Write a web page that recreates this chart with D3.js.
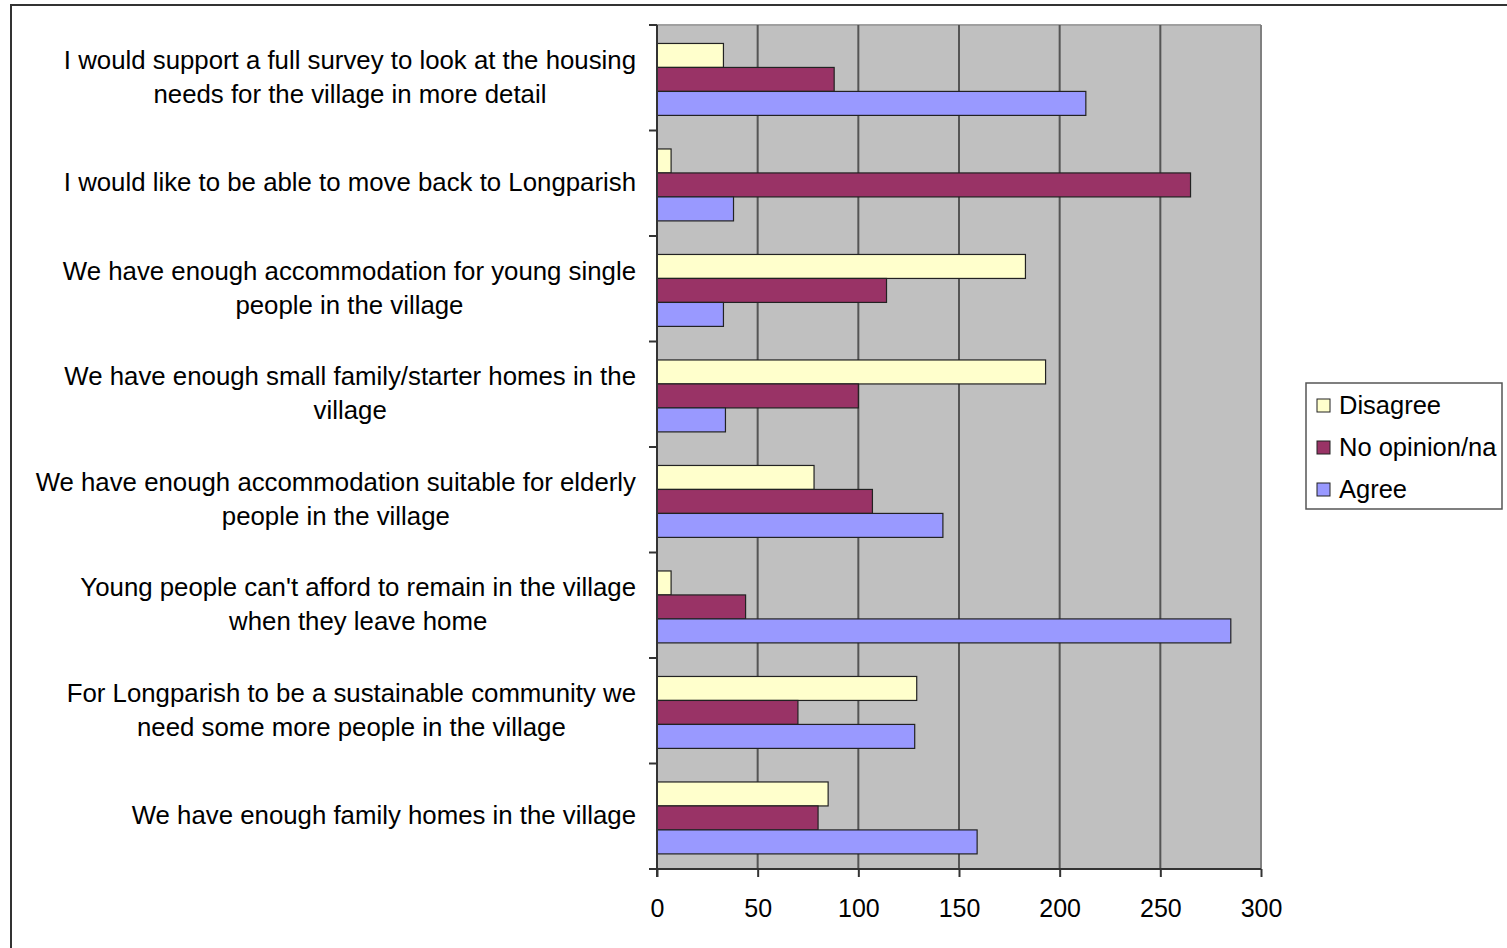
<!DOCTYPE html>
<html>
<head>
<meta charset="utf-8">
<script src="https://cdn.jsdelivr.net/npm/d3@7"></script>
<style>
  html, body { margin: 0; padding: 0; background: #fff; }
  svg { display: block; font-family: "Liberation Sans", Arial, sans-serif; }
</style>
</head>
<body>
<svg id="chart" width="1507" height="948"></svg>
<script>
const categories = [
  ["I would support a full survey to look at the housing", "needs for the village in more detail"],
  ["I would like to be able to move back to Longparish"],
  ["We have enough accommodation for young single", "people in the village"],
  ["We have enough small family/starter homes in the", "village"],
  ["We have enough accommodation suitable for elderly", "people in the village"],
  ["Young people can't afford to remain in the village", "when they leave home"],
  ["For Longparish to be a sustainable community we", "need some more people in the village"],
  ["We have enough family homes in the village"]
];
const seriesNames = ["Disagree", "No opinion/na", "Agree"];
const disagree = [33, 7, 183, 193, 78, 7, 129, 85];
const noOpinion = [88, 265, 114, 100, 107, 44, 70, 80];
const agree = [213, 38, 33, 34, 142, 285, 128, 159];
const seriesColors = ["#FFFFCC", "#993366", "#9999FF"];
const xTicks = [0, 50, 100, 150, 200, 250, 300];

(function () {
const seriesValues = [disagree, noOpinion, agree];
const svg = d3.select("#chart");

// outer frame
svg.append("rect").attr("x", 11).attr("y", 5).attr("width", 1520).attr("height", 980)
  .attr("fill", "none").attr("stroke", "#333").attr("stroke-width", 2);

const pLeft = 657, pRight = 1261, pTop = 25, pBottom = 869;
const x = d3.scaleLinear().domain([0, 300]).range([pLeft, pRight]);
const y = d3.scaleBand().domain(d3.range(categories.length)).range([pTop, pBottom]).paddingInner(0).paddingOuter(0);
const inner = d3.scaleBand().domain(d3.range(3)).range([0, y.bandwidth()])
  .paddingInner(0).paddingOuter(0.7).align(0.55);

// plot background
svg.append("rect").attr("x", pLeft).attr("y", pTop).attr("width", pRight - pLeft).attr("height", pBottom - pTop)
  .attr("fill", "#C0C0C0");
svg.append("path").attr("d", `M${pLeft},${pTop}H${pRight}`).attr("fill", "none")
  .attr("stroke", "#a0a0a0").attr("stroke-width", 2);
svg.append("path").attr("d", `M${pRight},${pTop}V${pBottom}`).attr("fill", "none")
  .attr("stroke", "#808080").attr("stroke-width", 2);

// gridlines
svg.append("g").selectAll("line").data(xTicks.slice(1, -1)).join("line")
  .attr("x1", d => x(d)).attr("x2", d => x(d)).attr("y1", pTop).attr("y2", pBottom)
  .attr("stroke", "#555").attr("stroke-width", 2);

// bars
const groups = svg.append("g").selectAll("g").data(categories).join("g")
  .attr("transform", (d, i) => `translate(0,${y(i)})`);
groups.selectAll("rect").data((d, i) => seriesValues.map((s, k) => ({ k, v: s[i] }))).join("rect")
  .attr("x", x(0)).attr("y", d => inner(d.k)).attr("width", d => x(d.v) - x(0)).attr("height", inner.bandwidth())
  .attr("fill", d => seriesColors[d.k]).attr("stroke", "#222").attr("stroke-width", 1.2);

// x axis
const xAxis = d3.axisBottom(x).tickValues(xTicks).tickSize(8).tickPadding(22);
const gx = svg.append("g").attr("transform", `translate(0,${pBottom})`).call(xAxis);
gx.select(".domain").attr("stroke", "#333").attr("stroke-width", 2).attr("d", `M${pLeft - 8},0H${pRight}`);
gx.selectAll(".tick line").attr("stroke", "#333").attr("stroke-width", 2);
gx.selectAll(".tick text").attr("font-size", 25).attr("fill", "#000")
  .attr("font-family", "Liberation Sans, Arial, sans-serif");

// y axis (ticks at band boundaries)
const bounds = d3.range(categories.length + 1).map(i => pTop + i * y.bandwidth());
svg.append("line").attr("x1", pLeft).attr("x2", pLeft).attr("y1", pTop).attr("y2", pBottom + 8)
  .attr("stroke", "#333").attr("stroke-width", 2);
svg.append("g").selectAll("line").data(bounds).join("line")
  .attr("x1", pLeft - 8).attr("x2", pLeft).attr("y1", d => d).attr("y2", d => d)
  .attr("stroke", "#333").attr("stroke-width", 2);

// category labels
const lineH = 34;
categories.forEach((lines, i) => {
  const cy = y(i) + y.bandwidth() / 2 - 1;
  const g = svg.append("g");
  const texts = g.selectAll("text").data(lines).join("text")
    .attr("font-size", 25.8).attr("fill", "#000").attr("text-anchor", "middle")
    .attr("dy", "0.35em")
    .attr("y", (d, j) => cy + (j - (lines.length - 1) / 2) * lineH)
    .text(d => d);
  let maxW = 0;
  texts.each(function () { maxW = Math.max(maxW, this.getComputedTextLength()); });
  texts.attr("x", 636 - maxW / 2);
});

// legend
const lg = svg.append("g");
lg.append("rect").attr("x", 1306).attr("y", 383).attr("width", 196).attr("height", 126)
  .attr("fill", "#fff").attr("stroke", "#555").attr("stroke-width", 1.5);
seriesNames.forEach((name, k) => {
  const cy = 405 + k * 42;
  lg.append("rect").attr("x", 1317).attr("y", cy - 6).attr("width", 13).attr("height", 13)
    .attr("fill", seriesColors[k]).attr("stroke", "#222").attr("stroke-width", 1);
  lg.append("text").attr("x", 1339).attr("y", cy).attr("dy", "0.35em")
    .attr("font-size", 25.5).attr("fill", "#000").text(name);
});
})();
</script>
</body>
</html>
